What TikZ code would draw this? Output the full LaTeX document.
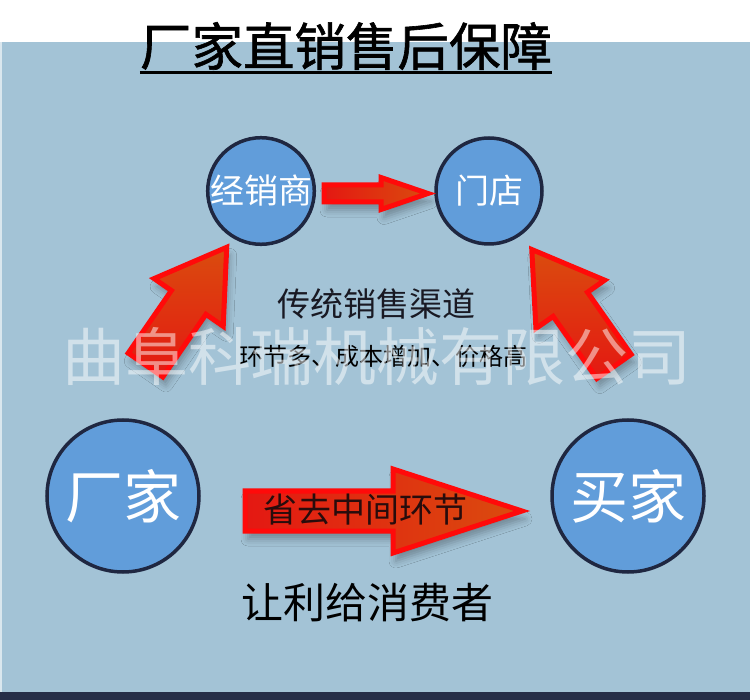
\documentclass[tikz,border=0pt]{standalone}
\usepackage{fontspec}
\newfontfamily\cjk{Noto Sans CJK SC}
\newfontfamily\cjkt[FakeBold=1.2]{Noto Sans CJK SC}
\usetikzlibrary{shadows.blur}
\definecolor{bg}{RGB}{163,195,214}
\definecolor{circfill}{RGB}{97,157,218}
\definecolor{circline}{RGB}{31,39,65}
\definecolor{arrred}{RGB}{255,10,10}
\definecolor{arrorange}{RGB}{218,76,14}
\definecolor{arrdeep}{RGB}{228,24,18}
\definecolor{darkstrip}{RGB}{38,46,72}
\definecolor{ontext}{RGB}{40,12,12}
\definecolor{labeltext}{RGB}{25,25,35}
\begin{document}
\begin{tikzpicture}[x=1pt,y=-1pt,
  smallcirc/.style={circle, fill=circfill, draw=circline, line width=3.5pt, inner sep=0pt,
    minimum size=106pt, text=white, font=\cjk\fontsize{34}{34}\selectfont},
  bigcirc/.style={circle, fill=circfill, draw=circline, line width=3.5pt, inner sep=0pt,
    minimum size=152pt, text=white, font=\cjk\fontsize{58}{58}\selectfont},
  blockarrow/.style={draw=arrred, line width=5pt, line join=miter,
    top color=arrorange, bottom color=arrdeep,
    blur shadow={shadow xshift=3pt, shadow yshift=-8pt, shadow blur radius=7pt, shadow opacity=30}},
  plain/.style={inner sep=0pt, text=labeltext}
]
\useasboundingbox (0,0) rectangle (750,700);
% backgrounds
\fill[bg] (0,0) rectangle (750,692);
\fill[white] (0,0) rectangle (750,42);
\fill[darkstrip] (0,692) rectangle (750,700);
\fill[white, opacity=0.6] (0,42) rectangle (2,692);

% title
\node[inner sep=0pt, text=black, font=\cjkt\fontsize{51.5}{51.5}\selectfont] (title) at (346,46) {厂家直销售后保障};
\draw[line width=3pt, black] (title.south west |- 0,73) -- (title.south east |- 0,73);

% circles
\node[smallcirc] (jxs) at (261,191) {经销商};
\node[smallcirc] (md) at (489,191) {门店};
\node[bigcirc] (cj) at (123,496) {厂家};
\node[bigcirc] (mj) at (628,496) {买家};

% small arrow between dealer and shop
\path[blockarrow, left color=arrdeep, right color=arrorange]
  (324,185) -- (381,185) -- (381,177.5) -- (428,193.5) -- (381,209.5) -- (381,202) -- (324,202) -- cycle;

% diagonal arrows
\begin{scope}[shift={(145.5,365)}, rotate=55.4]
  \path[blockarrow] (0,-21) -- (76,-21) -- (76,-42) -- (143,0) -- (76,42) -- (76,21) -- (0,21) -- cycle;
\end{scope}
\begin{scope}[shift={(614,366.5)}, rotate=125.1]
  \path[blockarrow] (0,-21) -- (76,-21) -- (76,-42) -- (143,0) -- (76,42) -- (76,21) -- (0,21) -- cycle;
\end{scope}

% big horizontal arrow
\path[blockarrow, left color=arrdeep, right color=arrorange]
  (245,491) -- (393,491) -- (393,469) -- (522,511) -- (393,553) -- (393,531) -- (245,531) -- cycle;
\node[inner sep=0pt, text=ontext, font=\cjk\fontsize{34}{34}\selectfont] (skip) at (365,510) {省去中间环节};

% labels
\node[plain, font=\cjk\fontsize{33}{33}\selectfont] (chan) at (376,304) {传统销售渠道};
\node[plain, text=black, font=\cjk\fontsize{24}{24}\selectfont] (cost) at (383,356) {环节多、成本增加、价格高};
\node[plain, text=black, font=\cjk\fontsize{42}{42}\selectfont] (profit) at (367,603) {让利给消费者};

% watermark
\node[inner sep=0pt, text=white, text opacity=0.5, font=\cjk\fontsize{63}{63}\selectfont] (wm) at (377,356) {曲阜科瑞机械有限公司};
\end{tikzpicture}
\end{document}
